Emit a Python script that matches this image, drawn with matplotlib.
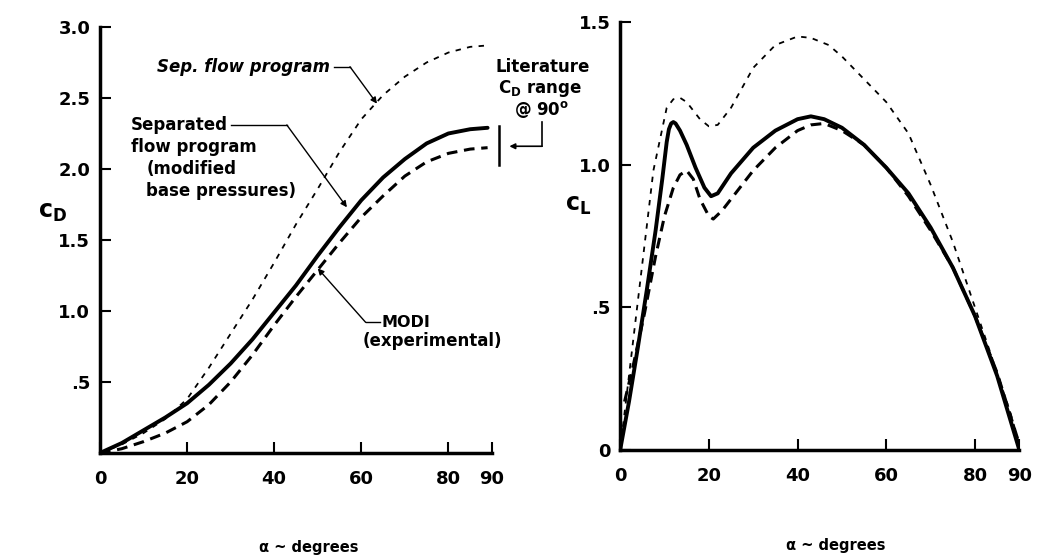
import matplotlib
matplotlib.use("Agg")
import matplotlib.pyplot as plt

plt.rcParams['font.family'] = ['DejaVu Sans']
plt.rcParams['font.weight'] = 'bold'
plt.rcParams['mathtext.fontset'] = 'custom'
plt.rcParams['mathtext.rm'] = 'DejaVu Sans'
plt.rcParams['mathtext.bf'] = 'DejaVu Sans:bold'

# ---- left panel: drag coefficient ----
cd_alpha = [0, 5, 10, 15, 20, 25, 30, 35, 40, 45, 50, 55, 60, 65, 70, 75, 80, 85, 89]
cd_sep_modified = [0, 0.07, 0.16, 0.25, 0.35, 0.48, 0.63, 0.80, 0.99, 1.18, 1.39, 1.59,
                   1.78, 1.94, 2.07, 2.18, 2.25, 2.28, 2.29]
cd_modi = [0, 0.03, 0.08, 0.14, 0.22, 0.34, 0.50, 0.69, 0.90, 1.10, 1.29, 1.48,
           1.66, 1.81, 1.95, 2.05, 2.11, 2.14, 2.15]
cd_sep_flow = [0, 0.06, 0.14, 0.24, 0.38, 0.60, 0.84, 1.08, 1.34, 1.61, 1.86, 2.12,
               2.35, 2.52, 2.65, 2.75, 2.82, 2.86, 2.87]
lit_range = [2.03, 2.30]

# ---- right panel: lift coefficient ----
cl_alpha_solid = [0, 2, 4, 6, 8, 9.5, 10.5, 11, 11.5, 12, 12.5, 13.5, 15, 17, 19, 20.5, 22,
                  25, 30, 35, 40, 43, 46, 50, 55, 60, 65, 70, 75, 80, 85, 90]
cl_sep_modified = [0, 0.17, 0.36, 0.56, 0.77, 0.95, 1.08, 1.125, 1.145, 1.15, 1.145, 1.12,
                   1.07, 0.99, 0.92, 0.89, 0.90, 0.97, 1.06, 1.12, 1.16, 1.17, 1.16, 1.13,
                   1.07, 0.99, 0.90, 0.78, 0.64, 0.47, 0.26, 0.0]
cl_alpha_modi = [1, 3, 5.5, 8, 10, 12, 13.5, 15, 16.5, 18, 20, 21, 23, 25, 30, 35, 40, 43,
                 46, 50, 55, 60, 65, 70, 75, 80, 85, 90]
cl_modi = [0.17, 0.30, 0.48, 0.68, 0.82, 0.92, 0.965, 0.98, 0.95, 0.88, 0.82, 0.81, 0.84,
           0.88, 0.98, 1.06, 1.12, 1.14, 1.145, 1.12, 1.07, 0.99, 0.89, 0.77, 0.64, 0.47,
           0.27, 0.02]
cl_alpha_sep = [0, 7.5, 10.5, 12, 13.5, 15, 18, 20, 22, 25, 30, 35, 40, 43, 47, 50, 55, 60,
                65, 70, 75, 80, 85, 88, 90]
cl_sep_flow = [0, 0.98, 1.20, 1.23, 1.235, 1.22, 1.16, 1.135, 1.14, 1.20, 1.34, 1.42, 1.45,
               1.445, 1.42, 1.38, 1.30, 1.22, 1.11, 0.93, 0.73, 0.50, 0.27, 0.13, 0.02]

x_ticks = [0, 20, 40, 60, 80, 90]

fig = plt.figure(figsize=(10.37, 5.55), dpi=100, facecolor='white')
ax1 = fig.add_axes([0.0964, 0.1838, 0.378, 0.7676])
ax2 = fig.add_axes([0.598, 0.189, 0.385, 0.771])

solid_kw = dict(color='black', lw=2.8, solid_capstyle='round', solid_joinstyle='round')
dash_kw = dict(color='black', lw=2.2, linestyle=(0, (3.5, 2.2)))
dot_kw = dict(color='black', lw=1.3, linestyle=(0, (3, 3.5)))

ax1.plot(cd_alpha, cd_sep_modified, **solid_kw)
ax1.plot(cd_alpha, cd_modi, **dash_kw)
ax1.plot(cd_alpha, cd_sep_flow, **dot_kw)
ax1.plot([91.6, 91.6], lit_range, color='black', lw=1.8, clip_on=False)

ax2.plot(cl_alpha_solid, cl_sep_modified, **solid_kw)
ax2.plot(cl_alpha_modi, cl_modi, **dash_kw)
ax2.plot(cl_alpha_sep, cl_sep_flow, **dot_kw)

for ax, xl in ((ax1, 0.533), (ax2, 0.54)):
    ax.set_xlim(0, 90)
    ax.spines['top'].set_visible(False)
    ax.spines['right'].set_visible(False)
    ax.spines['left'].set_linewidth(2.5)
    ax.spines['bottom'].set_linewidth(2.5)
    ax.set_xticks(x_ticks)
    ax.set_xticklabels([str(t) for t in x_ticks])
    ax.tick_params(direction='in', length=8, width=1.5, labelsize=13)
    ax.tick_params(axis='x', pad=12)
    ax.tick_params(axis='y', pad=7)
    for lab in ax.get_xticklabels() + ax.get_yticklabels():
        lab.set_fontweight('bold')
    ax.text(xl, -0.223, 'α ~ degrees', transform=ax.transAxes, ha='center',
            va='center', fontsize=10.5, fontweight='bold')

ax1.set_ylim(0, 3.0)
ax1.set_yticks([0.5, 1.0, 1.5, 2.0, 2.5, 3.0])
ax1.set_yticklabels(['.5', '1.0', '1.5', '2.0', '2.5', '3.0'], fontweight='bold')
ax1.text(-0.122, 0.566, r'$\mathbf{c_D}$', transform=ax1.transAxes, ha='center',
         va='center', fontsize=17)

ax2.set_ylim(0, 1.5)
ax2.set_yticks([0, 0.5, 1.0, 1.5])
ax2.set_yticklabels(['0', '.5', '1.0', '1.5'], fontweight='bold')
ax2.text(-0.105, 0.572, r'$\mathbf{c_L}$', transform=ax2.transAxes, ha='center',
         va='center', fontsize=17)

# annotations on the left panel
txt = dict(fontsize=12, fontweight='bold', va='center', ha='left')
arrow = dict(arrowstyle='-|>', color='black', lw=1.0, mutation_scale=9, shrinkA=0, shrinkB=0)

ax1.text(13.1, 2.72, 'Sep. flow program', style='italic', **txt)
ax1.plot([53.8, 57.4], [2.72, 2.72], color='black', lw=1.0)
ax1.annotate('', xy=(63.6, 2.46), xytext=(57.4, 2.72), arrowprops=arrow)

ax1.text(7.1, 2.31, 'Separated', **txt)
ax1.text(7.1, 2.155, 'flow program', **txt)
ax1.text(10.6, 2.0, '(modified', **txt)
ax1.text(10.6, 1.845, 'base pressures)', **txt)
ax1.plot([30.0, 42.9], [2.31, 2.31], color='black', lw=1.0)
ax1.annotate('', xy=(56.7, 1.73), xytext=(42.9, 2.31), arrowprops=arrow)

ax1.text(64.7, 0.92, 'MODI', fontsize=11.5, fontweight='bold', va='center', ha='left')
ax1.text(60.4, 0.79, '(experimental)', **txt)
ax1.plot([61.0, 64.2], [0.92, 0.92], color='black', lw=1.0)
ax1.annotate('', xy=(50.0, 1.30), xytext=(61.0, 0.92), arrowprops=arrow)

ax1.text(101.7, 2.72, 'Literature', fontsize=12, fontweight='bold', ha='center',
         va='center', clip_on=False)
ax1.text(101.0, 2.565, r'$\mathbf{C_D}$ range', fontsize=12, fontweight='bold',
         ha='center', va='center', clip_on=False)
ax1.text(101.5, 2.42, r'@ 90$^\mathbf{o}$', fontsize=12, fontweight='bold',
         ha='center', va='center', clip_on=False)
ax1.plot([101.5, 101.5], [2.33, 2.16], color='black', lw=1.2, clip_on=False)
ax1.annotate('', xy=(94.0, 2.16), xytext=(101.5, 2.16),
             arrowprops=dict(arrowstyle='-|>', color='black', lw=1.2, mutation_scale=8,
                             shrinkA=0, shrinkB=0), annotation_clip=False)

fig.savefig('out.png', dpi=100, facecolor='white')
